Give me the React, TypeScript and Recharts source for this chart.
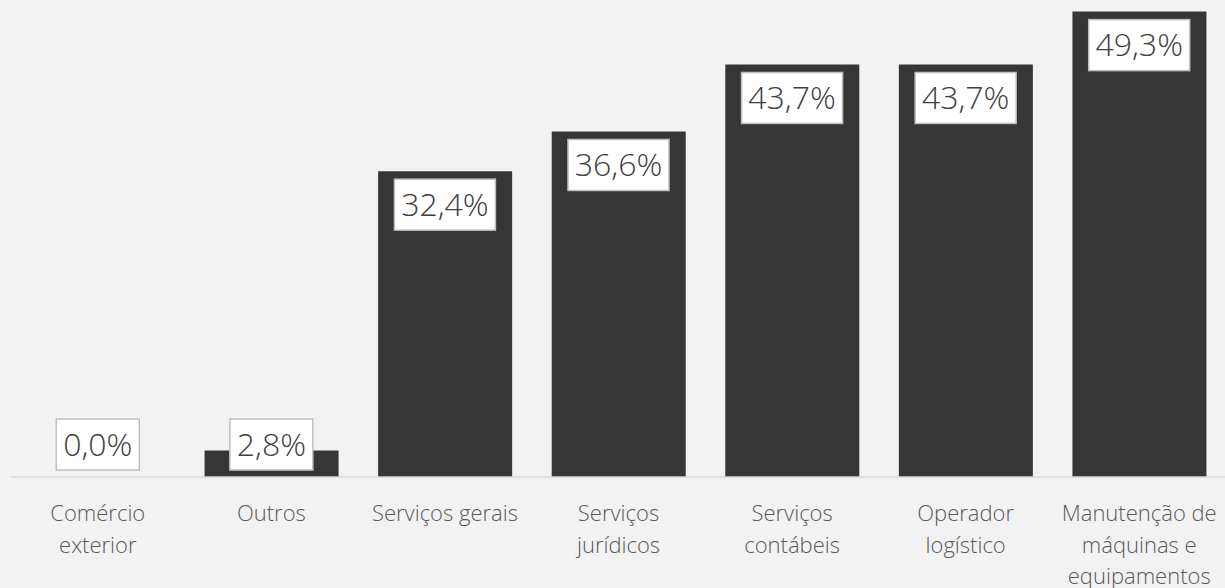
import React from "react";
import { ComposedChart, Bar, Line, XAxis, YAxis, LabelList } from "recharts";

const categories = [
  "Comércio\nexterior",
  "Outros",
  "Serviços gerais",
  "Serviços\njurídicos",
  "Serviços\ncontábeis",
  "Operador\nlogístico",
  "Manutenção de\nmáquinas e\nequipamentos"
];
const values = [0.0, 2.8, 32.4, 36.6, 43.7, 43.7, 49.3];

const data = categories.map((name, i) => ({ name, value: values[i] }));

const AXIS_Y = 477;
const FONT = "'Open Sans', 'Noto Sans', sans-serif";

const CategoryTick = (props: any) => {
  const { x, y, payload } = props;
  const lines = String(payload.value).split("\n");
  return (
    <g transform={`translate(${x},${y})`}>
      {lines.map((line: string, i: number) => (
        <text
          key={i}
          x={0}
          y={36 + i * 31.5}
          textAnchor="middle"
          fill="#595959"
          fontSize={22}
          fontWeight={300}
          fontFamily={FONT}
        >
          {line}
        </text>
      ))}
    </g>
  );
};

// label drawn from the line point (category centre, value height)
const BoxLabel = (props: any) => {
  const { x, y, value } = props;
  const text = Number(value).toFixed(1).replace(".", ",") + "%";
  const boxW = 83 + 18 * (text.length - 4);
  const boxH = 51;
  const top = Math.min(y + 8, AXIS_Y - 7 - boxH);
  return (
    <g>
      <rect
        x={x - boxW / 2}
        y={top}
        width={boxW}
        height={boxH}
        fill="#ffffff"
        stroke="#bfbfbf"
        strokeWidth={1.5}
      />
      <text
        x={x}
        y={top + boxH / 2 + 11}
        textAnchor="middle"
        fill="#404040"
        fontSize={32}
        fontWeight={300}
        fontFamily={FONT}
      >
        {text}
      </text>
    </g>
  );
};

export default function App() {
  return (
    <div
      style={{
        position: "absolute",
        left: 0,
        top: 0,
        width: 1225,
        height: 588,
        background: "#f2f2f2",
        overflow: "hidden"
      }}
    >
      <ComposedChart
        width={1226}
        height={588}
        data={data}
        margin={{ top: 5, right: 0, bottom: 0, left: 11 }}
        barCategoryGap={20}
      >
        <XAxis
          dataKey="name"
          height={111}
          interval={0}
          tickLine={false}
          axisLine={{ stroke: "#d9d9d9", strokeWidth: 1.5 }}
          tick={<CategoryTick />}
        />
        <YAxis hide domain={[0, 50]} />
        <Bar dataKey="value" fill="#363636" isAnimationActive={false} />
        <Line
          dataKey="value"
          stroke="none"
          dot={false}
          activeDot={false}
          isAnimationActive={false}
        >
          <LabelList dataKey="value" content={<BoxLabel />} />
        </Line>
      </ComposedChart>
    </div>
  );
}
